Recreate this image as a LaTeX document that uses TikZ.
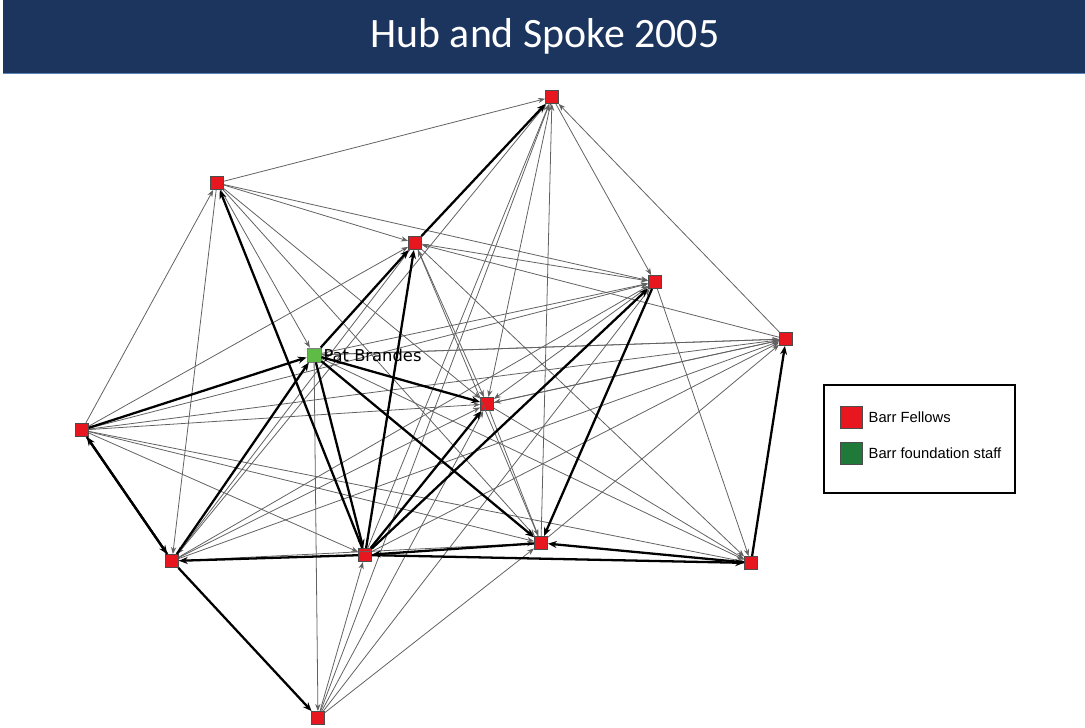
\documentclass[tikz,border=0pt]{standalone}
\usepackage{fontspec}
\setmainfont{Liberation Sans}
\newfontfamily\titlefont{Carlito}
\newfontfamily\labelfont{DejaVu Sans}
\usepackage{xcolor}
\definecolor{TitleBlue}{HTML}{1C355E}
\definecolor{BarLine}{HTML}{5B84B8}
\definecolor{FellowRed}{HTML}{E8161E}
\definecolor{StaffGreen}{HTML}{5DBB46}
\definecolor{LegendGreen}{HTML}{1F7A3A}
\usetikzlibrary{arrows.meta}
\tikzset{
	fellow/.style={draw=black!70, fill=FellowRed, minimum size=0.26cm, inner sep=0, line width=0.5},
	staff/.style={draw=black!50, fill=StaffGreen, minimum size=0.28cm, inner sep=0, line width=0.5},
	tie/.style={-{Stealth[length=4pt,width=3pt]}, black!62, line width=0.45},
	strongtie/.style={-{Stealth[length=5pt,width=4pt]}, black, line width=1.3}
}

\begin{document}
\begin{tikzpicture}
		\useasboundingbox (0,0) rectangle (21.7,-14.56);
		
		% Title
		\fill[TitleBlue] (0.06,0) rectangle (21.7,-1.46);
		\draw[BarLine, line width=1] (0.06,-1.47) -- (21.7,-1.47);
		\node[text=white, font=\titlefont\fontsize{23.8}{28}\selectfont] (title) at (10.9,-0.72) {Hub and Spoke 2005};
		
		% Nodes
		\node[fellow] (A) at (11.04,-1.94) {};
		\node[fellow] (B) at (4.34,-3.66) {};
		\node[fellow] (C) at (8.30,-4.86) {};
		\node[fellow] (D) at (13.10,-5.64) {};
		\node[fellow] (E) at (15.72,-6.78) {};
		\node[staff] (P) at (6.28,-7.10) {};
		\node[fellow] (F) at (9.74,-8.08) {};
		\node[fellow] (G) at (1.64,-8.60) {};
		\node[fellow] (H) at (3.44,-11.22) {};
		\node[fellow] (I) at (7.30,-11.10) {};
		\node[fellow] (J) at (10.82,-10.86) {};
		\node[fellow] (K) at (15.02,-11.26) {};
		\node[fellow] (L) at (6.36,-14.36) {};
		
		% Weak ties
		\foreach \s/\t in {B/A, B/C, B/D, G/B, B/P, B/F, B/J, B/H,
			A/D, E/A, I/A, J/A, L/A, H/A,
			C/D, E/C, C/F, J/C, C/K, G/C,
			D/F, H/D, L/D, G/D, P/D,
			E/P, F/E, G/E, I/E, J/E, H/E, E/F,
			G/F, G/I, G/J, G/K,
			P/L, P/K, P/E,
			F/J, F/K, H/F, L/F,
			L/I, L/J, H/J, D/K, A/F, C/H}
			\draw[tie] (\s) -- (\t);
		
		% Strong ties
		\foreach \s/\t in {C/A, I/B, P/C, I/C, G/P, H/G, G/H, H/P, I/H, H/L,
			P/I, P/F, P/J, I/F, I/D, D/J, J/I, I/K, K/J, K/E}
			\draw[strongtie] (\s) -- (\t);
		
		% Label on top of the ties
		\node[anchor=west, inner sep=1pt, font=\labelfont\fontsize{9.3}{10}\selectfont] (patlabel) at (P.east) {Pat Brandes};
		
		% Legend
		\draw[line width=1.3] (16.48,-7.70) rectangle (20.30,-9.86);
		\node[fellow, minimum size=0.44cm] (keyfellow) at (17.02,-8.34) {};
		\node[fellow, fill=LegendGreen, minimum size=0.44cm] (keystaff) at (17.02,-9.06) {};
		\node[anchor=west, font=\fontsize{8.4}{10}\selectfont] (keyfellowtext) at (keyfellow.east) {Barr Fellows};
		\node[anchor=west, font=\fontsize{8.4}{10}\selectfont] (keystafftext) at (keystaff.east) {Barr foundation staff};
	\end{tikzpicture}
\end{document}
